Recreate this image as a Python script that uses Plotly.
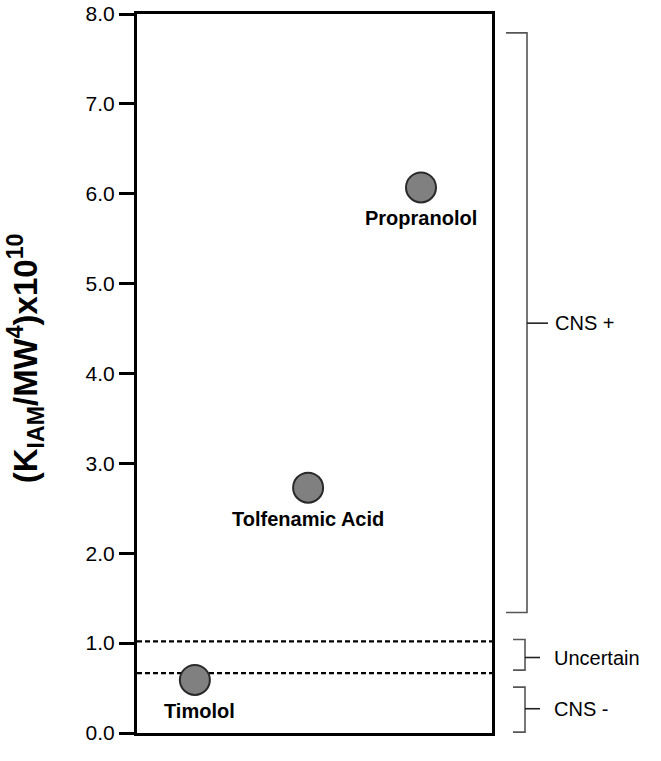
import plotly.graph_objects as go

# Compounds and their K_IAM/MW^4 (x10^10) values
compounds = ["Timolol", "Tolfenamic Acid", "Propranolol"]
x_pos = [1.63, 4.82, 8.0]
values = [0.59, 2.73, 6.07]

# Classification thresholds (dashed lines)
thresholds = [0.667, 1.02]

# Y ticks
y_ticks = [0, 1, 2, 3, 4, 5, 6, 7, 8]
y_tick_labels = ["0.0", "1.0", "2.0", "3.0", "4.0", "5.0", "6.0", "7.0", "8.0"]

# Bracket groups on the right: (label, low, high, tip)
bracket_labels = ["CNS +", "Uncertain", "CNS -"]
bracket_low = [1.34, 0.70, 0.01]
bracket_high = [7.79, 1.04, 0.51]
bracket_tip = [4.56, 0.84, 0.27]

FONT = "Liberation Sans, Arial, sans-serif"

fig = go.Figure()

# Threshold lines
for t in thresholds:
    fig.add_trace(go.Scatter(
        x=[0, 10], y=[t, t], mode="lines",
        line=dict(color="black", width=2.2, dash="5px,3px"),
        hoverinfo="skip", showlegend=False,
    ))

fig.add_trace(go.Scatter(
    x=x_pos, y=values, mode="markers",
    marker=dict(size=30, color="#808080", line=dict(color="#2a2a2a", width=2)),
    showlegend=False,
))

# Compound labels below each point
label_dx = [5, 0, 0]
for name, xv, yv, dx in zip(compounds, x_pos, values, label_dx):
    fig.add_annotation(
        x=xv, y=yv, text="<b>%s</b>" % name, showarrow=False,
        xshift=dx, yshift=-31, xanchor="center", yanchor="middle",
        font=dict(family=FONT, size=20, color="black"),
    )

# Right-hand brackets
bracket_specs = [
    dict(x_open=1.0394, x_back=1.0986, x_tip=1.1577, x_text=1.1718),
    dict(x_open=1.0592, x_back=1.0930, x_tip=1.1352, x_text=1.1690),
    dict(x_open=1.0592, x_back=1.0930, x_tip=1.1352, x_text=1.1690),
]
for lab, lo, hi, tip, sp in zip(bracket_labels, bracket_low, bracket_high, bracket_tip, bracket_specs):
    path = "M %f,%f L %f,%f L %f,%f L %f,%f" % (
        sp["x_open"], hi, sp["x_back"], hi, sp["x_back"], lo, sp["x_open"], lo)
    fig.add_shape(type="path", path=path, xref="paper", yref="y",
                  line=dict(color="#555555", width=1.6))
    fig.add_shape(type="line", xref="paper", yref="y",
                  x0=sp["x_back"], x1=sp["x_tip"], y0=tip, y1=tip,
                  line=dict(color="#222222", width=1.6))
    fig.add_annotation(
        x=sp["x_text"], y=tip, xref="paper", yref="y", text=lab,
        showarrow=False, xanchor="left", yanchor="middle",
        font=dict(family=FONT, size=20, color="black"),
    )

# Y-axis title
fig.add_annotation(
    x=-0.312, y=0.5216, xref="paper", yref="paper",
    text="<b>(K<sub>IAM</sub>/MW<sup>4</sup>)x10<sup>10</sup></b>",
    textangle=-90, showarrow=False, xanchor="center", yanchor="middle",
    font=dict(family=FONT, size=33, color="black"),
)

fig.update_xaxes(
    range=[0, 10], showticklabels=False, ticks="", showgrid=False,
    zeroline=False, showline=True, linecolor="black", linewidth=3, mirror=True,
    automargin=False,
)
fig.update_yaxes(
    range=[0, 8], tickvals=y_ticks, ticktext=y_tick_labels,
    ticks="outside", ticklen=15, tickwidth=3, tickcolor="black",
    showgrid=False, zeroline=False, showline=True, linecolor="black",
    linewidth=3, mirror=True, automargin=False,
    tickfont=dict(family=FONT, size=21, color="black"),
)

fig.update_layout(
    width=661, height=761,
    margin=dict(l=137, r=169, t=14, b=28, autoexpand=False),
    plot_bgcolor="white", paper_bgcolor="white",
    showlegend=False,
)

fig.write_html("out.html")
